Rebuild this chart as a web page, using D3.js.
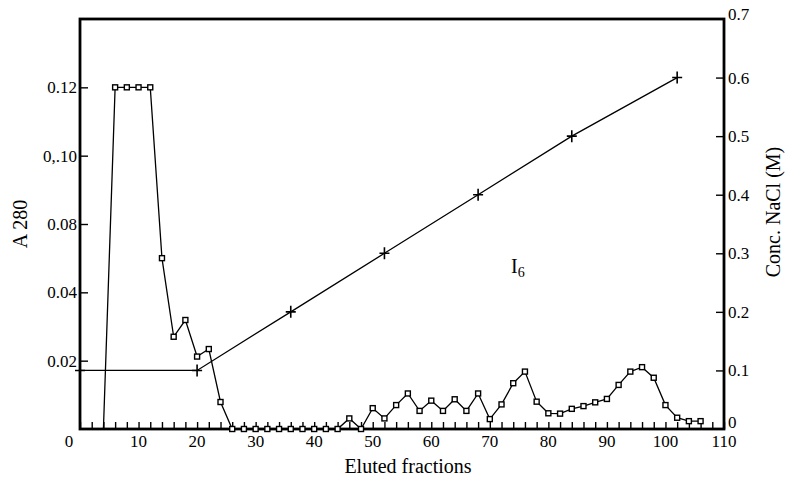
<!DOCTYPE html>
<html><head><meta charset="utf-8">
<script src="https://cdn.jsdelivr.net/npm/d3@7"></script>
<style>body{margin:0;background:#fff}svg{display:block}text{font-family:"Liberation Serif","DejaVu Serif",serif;fill:#000}</style>
</head><body><svg id="c" width="785" height="477"></svg>
<script>
const fractions = [4,6,8,10,12,14,16,18,20,22,24,26,28,30,32,34,36,38,40,42,44,46,48,50,52,54,56,58,60,62,64,66,68,70,72,74,76,78,80,82,84,86,88,90,92,94,96,98,100,102,104,106];
const a280 = [0,0.100,0.100,0.100,0.100,0.050,0.027,0.0319,0.0212,0.0234,0.0079,0,0,0,0,0,0,0,0,0,0,0.0031,0,0.0061,0.0031,0.0070,0.0104,0.0053,0.0083,0.0053,0.0087,0.0053,0.0104,0.0029,0.0072,0.0134,0.0168,0.0080,0.0046,0.0045,0.0059,0.0067,0.0078,0.0088,0.0129,0.0168,0.0181,0.0150,0.0070,0.0033,0.0023,0.0023];
const naclFractions = [0,20,36,52,68,84,102];
const naclConc = [0.1,0.1,0.2,0.3,0.4,0.5,0.6];
const xTicks = [0,10,20,30,40,50,60,70,80,90,100,110];
const leftTickValues = [0.02,0.04,0.06,0.08,0.10];
const leftTickLabels = ["0.02","0.04","0.08","0,.10","0.12"];
const rightTicks = [0,0.1,0.2,0.3,0.4,0.5,0.6,0.7];

const svg = d3.select("#c");
const L=80, R=724, T=19, B=429;
const x = d3.scaleLinear().domain([0,110]).range([L,R]);
const yL = d3.scaleLinear().domain([0,0.12]).range([B,T]);
const yR = d3.scaleLinear().domain([0,0.7]).range([B,T]);

// frame
svg.append("rect").attr("x",L).attr("y",T).attr("width",R-L).attr("height",B-T)
  .attr("fill","none").attr("stroke","#000").attr("stroke-width",2.8);

// bottom axis: minor ticks every 2, inward
const xAx = d3.axisTop(x).tickValues(d3.range(0,111,2)).tickSize(7).tickFormat("");
const gx = svg.append("g").attr("transform",`translate(0,${B})`).call(xAx);
gx.select(".domain").remove();
gx.selectAll("line").attr("stroke","#000").attr("stroke-width",1.4);
svg.append("g").selectAll("text").data(xTicks).join("text")
  .attr("x",d=>x(d)+(d===0?-11:0)).attr("y",447).attr("text-anchor","middle")
  .attr("font-size",17).text(d=>d);

// left axis
const gl = svg.append("g").attr("transform",`translate(${L},0)`)
  .call(d3.axisRight(yL).tickValues(leftTickValues).tickSize(8).tickFormat(""));
gl.select(".domain").remove();
gl.selectAll("line").attr("stroke","#000").attr("stroke-width",1.4);
svg.append("g").selectAll("text").data(leftTickValues).join("text")
  .attr("x",77).attr("y",d=>yL(d)+6).attr("text-anchor","end").attr("font-size",17)
  .text((d,i)=>leftTickLabels[i]);

// right axis
const gr = svg.append("g").attr("transform",`translate(${R},0)`)
  .call(d3.axisLeft(yR).tickValues(rightTicks.slice(1,7)).tickSize(8).tickFormat(""));
gr.select(".domain").remove();
gr.selectAll("line").attr("stroke","#000").attr("stroke-width",1.4);
svg.append("g").selectAll("text").data(rightTicks).join("text")
  .attr("x",728).attr("y",d=>d===0?yR(d)-1:(d===0.7?yR(d)+1:yR(d)+6)).attr("text-anchor","start").attr("font-size",17)
  .text(d=>d===0?"0":d3.format(".1f")(d));

// titles
svg.append("text").attr("transform","translate(27,224) rotate(-90)").attr("text-anchor","middle")
  .attr("font-size",20).text("A 280");
svg.append("text").attr("x",408).attr("y",473).attr("text-anchor","middle")
  .attr("font-size",20).text("Eluted fractions");
svg.append("text").attr("transform","translate(780,212) rotate(-90)").attr("text-anchor","middle")
  .attr("font-size",20).text("Conc. NaCl (M)");
const lab = svg.append("text").attr("x",511).attr("y",273).attr("font-size",20);
lab.append("tspan").text("I");
lab.append("tspan").attr("font-size",14).attr("dy",4).text("6");

// NaCl line
const nacl = naclFractions.map((f,i)=>[f,naclConc[i]]);
svg.append("path").datum(nacl).attr("fill","none").attr("stroke","#000").attr("stroke-width",1.3)
  .attr("d",d3.line().x(d=>x(d[0])).y(d=>yR(d[1])));
svg.append("g").selectAll("path").data(nacl).join("path")
  .attr("d",d=>`M${x(d[0])-5},${yR(d[1])}h10M${x(d[0])},${yR(d[1])-6}v12`)
  .attr("stroke","#000").attr("stroke-width",1.6);

// A280 line
const a = fractions.map((f,i)=>[f,a280[i]]);
svg.append("path").datum(a).attr("fill","none").attr("stroke","#000").attr("stroke-width",1.3)
  .attr("d",d3.line().x(d=>x(d[0])).y(d=>yL(d[1])));
svg.append("g").selectAll("rect").data(a.slice(1)).join("rect")
  .attr("x",d=>x(d[0])-2.5).attr("y",d=>yL(d[1])-2.5).attr("width",5).attr("height",5)
  .attr("fill","#fff").attr("stroke","#000").attr("stroke-width",1.4);
</script></body></html>
